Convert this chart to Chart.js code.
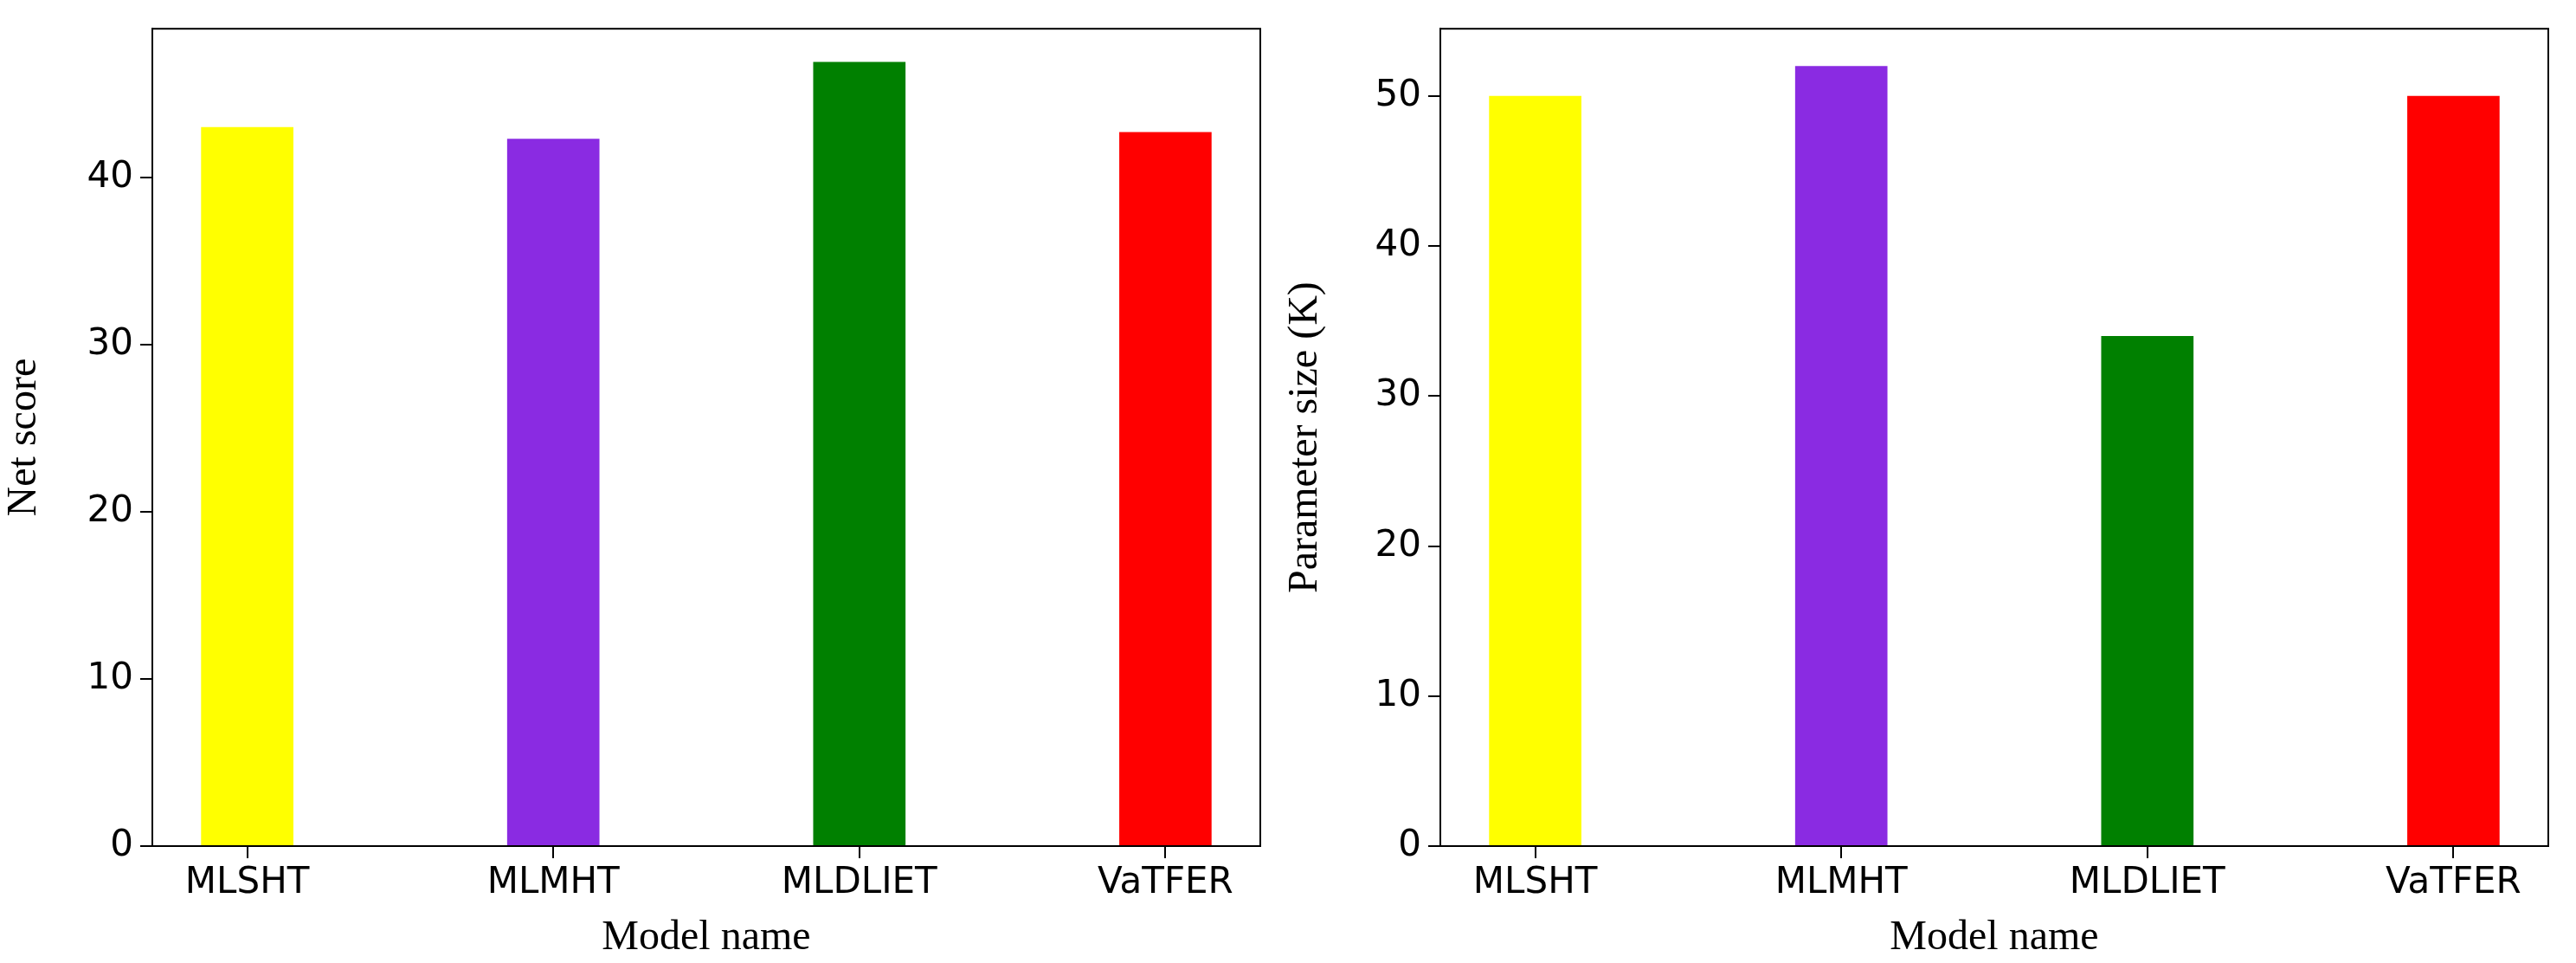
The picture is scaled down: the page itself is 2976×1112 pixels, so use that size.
<!DOCTYPE html>
<html><head><meta charset="utf-8">
<script src="https://cdn.jsdelivr.net/npm/chart.js@4/dist/chart.umd.min.js"></script>
<style>
body{margin:0;width:2976px;height:1112px;background:#fff;position:relative;overflow:hidden}
.w{position:absolute;top:0;height:1112px}
</style></head><body>
<div class="w" style="left:0;width:1480px"><canvas id="c1"></canvas></div>
<div class="w" style="left:1480px;width:1496px"><canvas id="c2"></canvas></div>
<script>
const models = ['MLSHT', 'MLMHT', 'MLDLIET', 'VaTFER']
const barColors = ['#ffff00', '#8a2be2', '#008000', '#ff0000']
const netScore = [43.0, 42.3, 46.9, 42.7]
const paramSize = [50, 52, 34, 50]
const netTicks = [0, 10, 20, 30, 40]
const paramTicks = [0, 10, 20, 30, 40, 50]

const frame = {
  id: 'frame',
  afterDraw(c) {
    const a = c.chartArea, ctx = c.ctx
    ctx.save(); ctx.strokeStyle = '#000'; ctx.lineWidth = 2
    ctx.strokeRect(a.left, a.top, a.right - a.left, a.bottom - a.top)
    ctx.restore()
  }
}

function makeChart(id, values, yTicks, yMax, yTitle, yWidth, right) {
  new Chart(document.getElementById(id), {
    type: 'bar',
    data: { datasets: [{ data: values.map((v, i) => ({ x: i, y: v })), backgroundColor: barColors, barThickness: 106 }] },
    options: {
      responsive: true, maintainAspectRatio: false, animation: false,
      layout: { padding: { top: 27, right: right, left: 0, bottom: 0 } },
      plugins: { legend: { display: false }, tooltip: { enabled: false } },
      scales: {
        x: {
          type: 'linear', min: -0.31, max: 3.31, offset: false,
          afterBuildTicks: s => { s.ticks = models.map((m, i) => ({ value: i })) },
          afterFit: s => { s.height = 135 },
          ticks: { callback: v => models[v], color: '#000', font: { family: 'DejaVu Sans', size: 42 }, padding: 4, maxRotation: 0 },
          grid: { offset: false, drawOnChartArea: false, tickLength: 14, color: '#000', lineWidth: 2 },
          border: { color: '#000', width: 2 },
          title: { display: true, text: 'Model name', color: '#000', font: { family: 'Liberation Serif', size: 48 }, padding: 0 }
        },
        y: {
          min: 0, max: yMax,
          afterBuildTicks: s => { s.ticks = yTicks.map(v => ({ value: v })) },
          afterFit: s => { s.width = yWidth },
          ticks: { color: '#000', font: { family: 'DejaVu Sans', size: 42 }, padding: 8 },
          grid: { drawOnChartArea: false, tickLength: 14, color: '#000', lineWidth: 2 },
          border: { color: '#000', width: 2 },
          title: { display: true, text: yTitle, color: '#000', font: { family: 'Liberation Serif', size: 48 }, padding: 0 }
        }
      }
    },
    plugins: [frame]
  })
}

makeChart('c1', netScore, netTicks, 48.9, 'Net score', 176, 24)
makeChart('c2', paramSize, paramTicks, 54.5, 'Parameter size (K)', 184, 32)
</script>
</body></html>
